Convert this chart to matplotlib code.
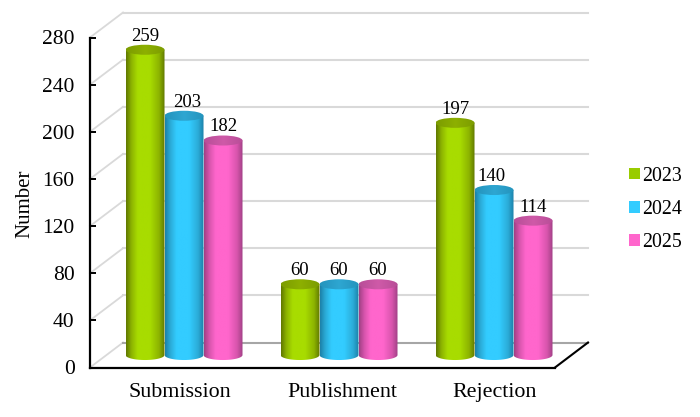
import numpy as np
import matplotlib
matplotlib.use("Agg")
import matplotlib.pyplot as plt
from matplotlib.colors import LinearSegmentedColormap
from matplotlib.patches import Patch, PathPatch, Ellipse
from matplotlib.path import Path

plt.rcParams['font.family'] = ['Liberation Serif', 'DejaVu Serif']

categories = ["Submission", "Publishment", "Rejection"]
years = ["2023", "2024", "2025"]
values_2023 = [259, 60, 197]
values_2024 = [203, 60, 140]
values_2025 = [182, 60, 114]
y_ticks = [0, 40, 80, 120, 160, 200, 240, 280]

series = [values_2023, values_2024, values_2025]

# legend colour, edge shade, mid shade, centre shade, cap colours
colors = ["#99cc00", "#33ccff", "#ff66cc"]
edge_dark = ["#607800", "#1c80a8", "#a04085"]
edge_mid = ["#8db400", "#2bacd8", "#d855ad"]
centre = ["#a8dc00", "#33ccff", "#ff66cc"]
cap_dark = ["#7c9c00", "#2494bd", "#b84e98"]
cap_light = ["#8db000", "#2ea6d2", "#cf5aa8"]

bar_w = 0.2516
cap_h = 8.5       # full ellipse height, in axis units
depth_x = 0.213   # 3D wall offset
depth_y = 21.2
grid_col = "#d9d9d9"

# small sideways nudge of some value labels, in points
label_dx = {(0, 1): 2.2, (2, 1): -1.8, (1, 0): -0.6, (1, 1): -0.6}


def gradient(ax, x0, x1, y0, y1, stops, clip, zorder):
    cmap = LinearSegmentedColormap.from_list("g", stops)
    img = ax.imshow(np.linspace(0, 1, 200).reshape(1, -1), cmap=cmap, extent=(x0, x1, y0, y1),
                    aspect="auto", interpolation="bilinear", zorder=zorder)
    img.set_clip_path(clip)


def cylinder(ax, xc, value, j, zorder):
    x0, x1 = xc - bar_w / 2, xc + bar_w / 2
    base = depth_y / 2
    top = base + value

    # body: straight sides with rounded bottom
    t = np.linspace(np.pi, 2 * np.pi, 40)
    xs = xc + bar_w / 2 * np.cos(t)
    ys = base + cap_h / 2 * np.sin(t)
    verts = np.vstack([[[x0, top]], np.column_stack([xs, ys]), [[x1, top]], [[x0, top]]])
    body = PathPatch(Path(verts), transform=ax.transData, fc="none", ec="none")
    ax.add_patch(body)
    stops = [(0, edge_dark[j]), (0.14, edge_mid[j]), (0.3, centre[j]), (0.62, centre[j]),
             (0.85, edge_mid[j]), (1, edge_dark[j])]
    gradient(ax, x0, x1, base - cap_h, top + cap_h, stops, body, zorder)

    cap = Ellipse((xc, top), bar_w, cap_h, transform=ax.transData, fc="none", ec="none")
    ax.add_patch(cap)
    stops = [(0, cap_dark[j]), (0.5, cap_light[j]), (1, cap_dark[j])]
    gradient(ax, x0, x1, top - cap_h, top + cap_h, stops, cap, zorder + 0.1)


fig = plt.figure(figsize=(7, 4.17), dpi=100)
ax = fig.add_axes([90 / 700, 1 - 367.5 / 417, 465 / 700, 330 / 417])
ax.patch.set_alpha(0)

# back wall and side wall lines
for v in y_ticks:
    ax.plot([0, depth_x], [v, v + depth_y], color=grid_col, lw=1.3, clip_on=False, zorder=1)
    col = "#a6a6a6" if v == 0 else grid_col
    ax.plot([depth_x, 3 + depth_x], [v + depth_y, v + depth_y], color=col, lw=1.5, clip_on=False, zorder=1)
ax.plot([3, 3 + depth_x], [0, depth_y], color="black", lw=1.5, clip_on=False, zorder=2)

for i in range(len(categories)):
    xc = i + 0.5 + depth_x / 2
    for j, vals in enumerate(series):
        xb = xc + (j - 1) * bar_w
        cylinder(ax, xb, vals[i], j, 3 + j)
        ax.annotate(str(vals[i]), (xb, depth_y / 2 + vals[i]), xytext=(label_dx.get((i, j), 0), 9.8),
                    textcoords="offset points", ha="center", va="center", fontsize=13.5, zorder=8,
                    annotation_clip=False)

ax.set_xlim(0, 3)
ax.set_ylim(0, 280)
ax.set_yticks(y_ticks)
ax.set_xticks([0.58, 1.626, 2.613])
ax.set_xticklabels(categories, fontsize=15.8)
ax.tick_params(axis="x", length=0, pad=11.5)
ax.tick_params(axis="y", direction="in", length=4.5, width=1.4, labelsize=15.5, pad=11)
ax.set_ylabel("Number", fontsize=15)
ax.yaxis.set_label_coords(-0.12, 0.495)

for side in ["top", "right"]:
    ax.spines[side].set_visible(False)
for side in ["left", "bottom"]:
    ax.spines[side].set_linewidth(1.6)

handles = [Patch(facecolor=c, edgecolor="none", label=y) for c, y in zip(colors, years)]
fig.legend(handles=handles, loc="center left", bbox_to_anchor=(0.898, 0.498), frameon=False,
           fontsize=14.3, handlelength=0.55, handleheight=0.55, handletextpad=0.15, labelspacing=0.72,
           borderpad=0, borderaxespad=0)

fig.savefig("out.png", dpi=100)
plt.close(fig)
